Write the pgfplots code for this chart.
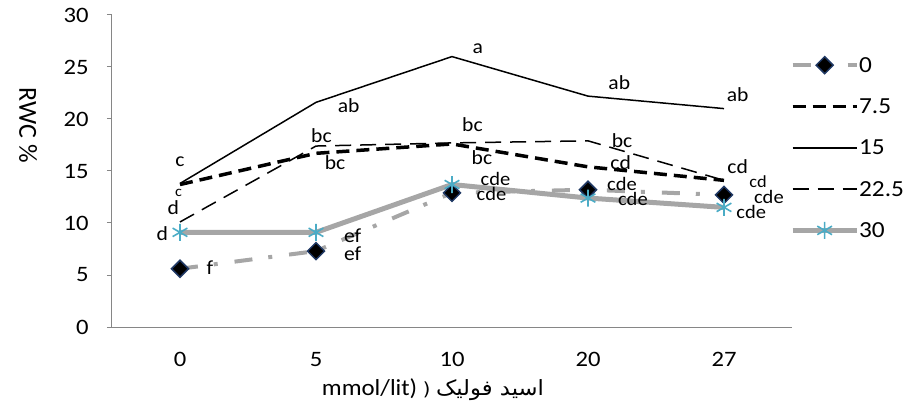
\documentclass[border=0pt]{standalone}
\usepackage{fontspec}
\setmainfont{Carlito}
\newfontfamily\arabicfont[Script=Arabic]{DejaVu Sans}
\TeXXeTstate=1
\usepackage{pgfplots}
\pgfplotsset{compat=1.18}
\definecolor{axgray}{RGB}{134,134,134}
\definecolor{sgray}{RGB}{166,166,166}
\definecolor{scyan}{RGB}{75,172,198}
\definecolor{dnavy}{RGB}{31,56,100}
\pgfplotstableread{
x y
0 5.6
1 7.3
2 12.9
3 13.2
4 12.7
}\sZero
\pgfplotstableread{
x y
0 13.7
1 16.7
2 17.6
3 15.4
4 14.1
}\sSeven
\pgfplotstableread{
x y
0 13.8
1 21.6
2 26.0
3 22.2
4 21.0
}\sFifteen
\pgfplotstableread{
x y
0 10.1
1 17.4
2 17.7
3 17.9
4 14.1
}\sTwentyTwo
\pgfplotstableread{
x y
0 9.1
1 9.1
2 13.7
3 12.4
4 11.5
}\sThirty
\begin{document}
\begin{tikzpicture}
\begin{axis}[
  at={(0,0)}, anchor=south west,
  scale only axis, width=680bp, height=312bp,
  xmin=-0.5, xmax=4.5, ymin=0, ymax=30,
  xtick={0,1,2,3,4}, xticklabels={0,5,10,20,27},
  minor xtick={-0.5,0.5,1.5,2.5,3.5,4.5},
  ytick={0,5,...,30},
  axis x line*=bottom, axis y line*=left,
  axis line style={axgray, line width=1bp},
  tick align=outside,
  xtick style={draw=none},
  major tick length=5bp, minor tick length=7bp,
  ytick style={axgray, line width=1bp},
  minor x tick style={axgray, line width=1bp},
  tick label style={font=\fontsize{22bp}{26bp}\selectfont, xscale=1.12},
  /pgf/number format/assume math mode=true,
  yticklabel style={xshift=-13bp},
  xticklabel style={yshift=-17bp},
  clip=false,
  ylabel={RWC \%},
  ylabel style={rotate=180, anchor=center, at={(axis description cs:-0.1235,0.647)}, font=\fontsize{26bp}{30bp}\selectfont},
  xlabel={mmol/lit) {\arabicfont\fontsize{18bp}{20bp}\selectfont (} {\arabicfont\fontsize{21bp}{24bp}\selectfont\beginR اسید فولیک\endR}},
  xlabel style={anchor=center, at={(axis description cs:0.472,-0.202)}, font=\fontsize{23bp}{27bp}\selectfont, xscale=1.08},
  legend style={at={(axis description cs:0.997,0.875)}, anchor=north west, draw=none, fill=none, inner sep=0pt,
    row sep=19.3bp, font=\fontsize{23bp}{26bp}\selectfont,
    nodes={inner sep=0pt, text height=18bp, text depth=4bp, xscale=1.1},
    /tikz/every even column/.append style={column sep=10bp}},
  legend cell align=left,
  legend image code/.code={\draw[mark repeat=2,mark phase=2,#1] plot coordinates {(0bp,0bp) (32bp,0bp) (64bp,0bp)};},
]
\addplot[sgray, line width=4bp, dash pattern=on 18bp off 16bp on 4bp off 17bp,
  mark=square*, mark size=6bp, mark options={solid, rotate=45, fill=black, draw=dnavy, line width=1.5bp}]
  table {\sZero};
\addlegendentry{0}
\addplot[black, line width=3.5bp, dash pattern=on 13bp off 7bp] table {\sSeven};
\addlegendentry{7.5}
\addplot[black, line width=1.5bp] table {\sFifteen};
\addlegendentry{15}
\addplot[black, line width=1.5bp, dash pattern=on 16bp off 9bp] table {\sTwentyTwo};
\addlegendentry{22.5}
\addplot[sgray, line width=5bp, mark=asterisk, mark size=8.5bp, mark options={solid, scyan, line width=1.6bp}] table {\sThirty};
\addlegendentry{30}
% significance letters
\begin{scope}[every node/.style={font=\fontsize{20bp}{24bp}\selectfont, inner sep=0pt, anchor=center, xscale=1.08}]
\node at (axis cs:0,15.9) {c};
\node[font=\fontsize{15bp}{18bp}\selectfont] at (axis cs:-0.01,12.9) {c};
\node at (axis cs:-0.05,11.5) {d};
\node at (axis cs:-0.13,9.0) {d};
\node at (axis cs:0.22,5.7) {f};
\node at (axis cs:1.24,21.3) {ab};
\node at (axis cs:1.04,18.4) {bc};
\node at (axis cs:1.14,15.8) {bc};
\node at (axis cs:1.27,8.75) {ef};
\node at (axis cs:1.27,7.0) {ef};
\node at (axis cs:2.19,26.8) {a};
\node at (axis cs:2.15,19.5) {bc};
\node at (axis cs:2.22,16.3) {bc};
\node[font=\fontsize{19bp}{22bp}\selectfont] at (axis cs:2.32,14.2) {cde};
\node[font=\fontsize{19bp}{22bp}\selectfont] at (axis cs:2.29,12.75) {cde};
\node at (axis cs:3.23,23.5) {ab};
\node at (axis cs:3.25,17.9) {bc};
\node at (axis cs:3.24,15.8) {cd};
\node[font=\fontsize{19bp}{22bp}\selectfont] at (axis cs:3.25,13.75) {cde};
\node[font=\fontsize{19bp}{22bp}\selectfont] at (axis cs:3.33,12.3) {cde};
\node at (axis cs:4.1,22.3) {ab};
\node at (axis cs:4.1,15.4) {cd};
\node[font=\fontsize{17bp}{20bp}\selectfont] at (axis cs:4.25,14.0) {cd};
\node[font=\fontsize{19bp}{22bp}\selectfont] at (axis cs:4.33,12.55) {cde};
\node[font=\fontsize{19bp}{22bp}\selectfont] at (axis cs:4.2,11.1) {cde};
\end{scope}
\end{axis}
\pgfresetboundingbox
\path[use as bounding box] (-112bp,-85bp) rectangle (801bp,327bp);
\end{tikzpicture}
\end{document}
